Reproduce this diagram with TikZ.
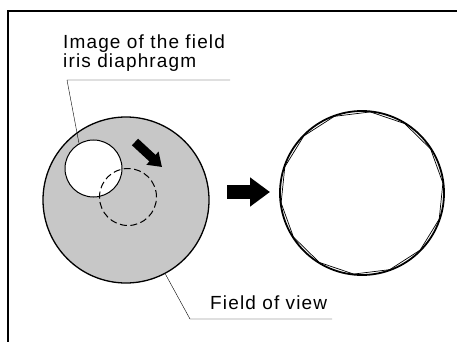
\documentclass[tikz,border=0pt]{standalone}
\usepackage{fontspec}
\setmainfont{Liberation Sans}[LetterSpace=6]
\usepackage{tikz}
\usetikzlibrary{arrows.meta, positioning, shapes.geometric}

\begin{document}
\begin{tikzpicture}[x=1pt, y=-1pt, every node/.style={font=\fontsize{19}{19}\selectfont},
    ring/.style={circle, draw, inner sep=0pt},
    bigarrow/.style={line width=14pt, -{Triangle[length=20pt, width=28pt]}},
    smallarrow/.style={line width=9pt, -{Triangle[length=13pt, width=17pt]}}]
    \useasboundingbox (0,0) rectangle (457,342);
    \draw[line width=1.2pt] (8,342) |- (457,11);
    % left: field of view with the iris image
    \node[ring, fill=black!22, line width=1.3pt, minimum size=166pt] (fov) at (126,200) {};
    \node[ring, fill=white, line width=1pt, minimum size=57pt] (iris) at (93.5,168.5) {};
    \node[ring, dashed, dash pattern=on 7pt off 3.5pt, line width=1pt, minimum size=57pt] (shifted) at (128,197) {};
    \draw[smallarrow] (135,142) -- (162,167);
    % labels
    \node[anchor=north west, align=left, inner sep=0pt] (irislabel) at (63,35) {Image of the field\\iris diaphragm};
    \coordinate (irisknee) at (67,80);
    \draw (iris.120) -- (irisknee) -- ++(163,0);
    \node[anchor=base west, inner sep=0pt] (fovlabel) at (210,309) {Field of view};
    \coordinate (fovknee) at (190,319);
    \draw (fov.-62) -- (fovknee) -- ++(142,0);
    % right: centred diaphragm
    \draw[bigarrow] (227,192) -- (270,192);
    \node[ring, line width=1.8pt, minimum size=164pt] (centred) at (362,193) {};
    \node[regular polygon, regular polygon sides=14, draw, line width=0.7pt, minimum size=163pt, inner sep=0pt, rotate=7] (blades) at (centred) {};
\end{tikzpicture}
\end{document}
